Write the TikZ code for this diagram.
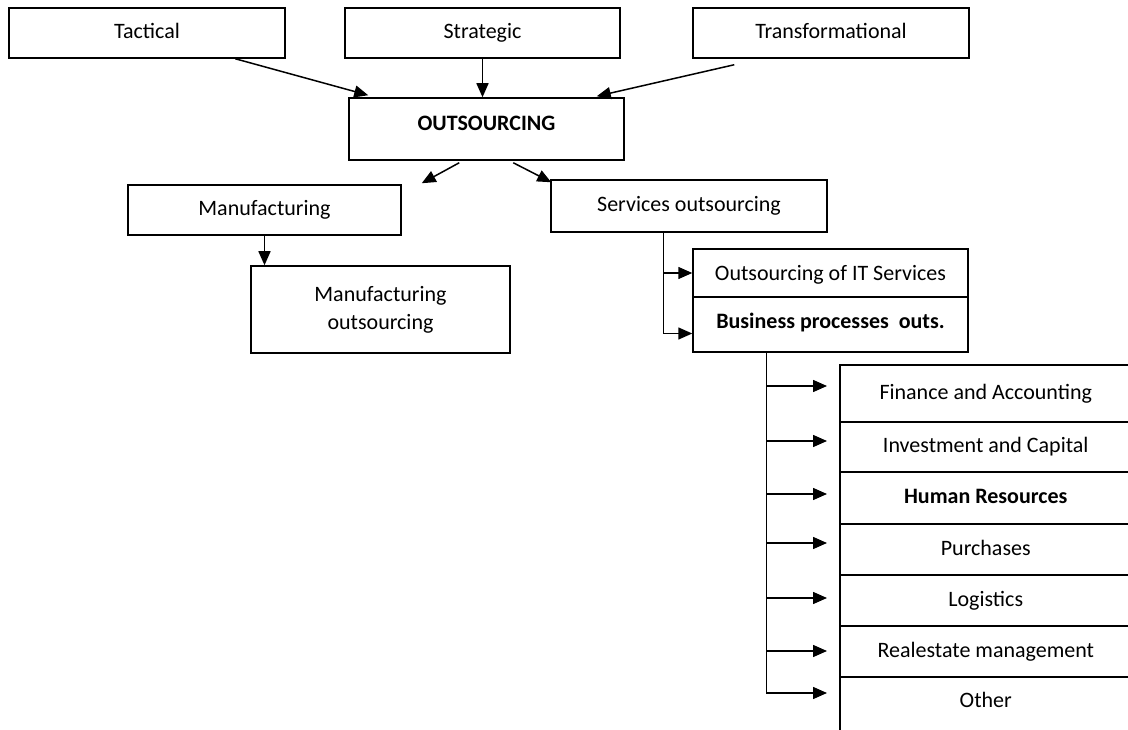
\documentclass[tikz,border=0pt]{standalone}
\usepackage{fontspec}
\setmainfont{Carlito}
\usetikzlibrary{arrows.meta,calc}
\begin{document}
\begin{tikzpicture}[x=1pt,y=-1pt,
  base/.style={draw, line width=1.5pt, inner sep=0pt, align=center, font=\fontsize{22}{28}\selectfont},
  box/.style={base, text height=15pt, text depth=3pt},
  boldbox/.style={box, font=\fontsize{22}{28}\selectfont\bfseries},
  stackbox/.style={box, minimum width=292pt, anchor=north west},
  txt/.style={inner sep=0pt, font=\fontsize{22}{28}\selectfont, text height=15pt, text depth=3pt},
  arr/.style={line width=1.5pt, -{Triangle[length=14pt,width=12pt]}},
  ln/.style={line width=1.5pt}]
\path[use as bounding box, clip] (0,0) rectangle (1128,730);
% top row
\node[box, minimum width=276pt, minimum height=50pt] (tact) at (147,33) {Tactical};
\node[box, minimum width=275pt, minimum height=50pt] (strat) at (482.5,33) {Strategic};
\node[box, minimum width=276pt, minimum height=50pt] (trans) at (831,33) {Transformational};
\node[boldbox, minimum width=275pt, minimum height=62pt, text depth=12pt] (outs) at (486.5,129) {OUTSOURCING};
% second level
\node[box, minimum width=273pt, minimum height=50pt] (manu) at (264.5,210) {Manufacturing};
\node[base, minimum width=259pt, minimum height=87pt] (mout) at (380.5,309.5) {Manufacturing\\outsourcing};
\node[box, minimum width=276pt, minimum height=52pt] (serv) at (689,206) {Services outsourcing};
\node[box, minimum width=275pt, minimum height=48pt, text depth=0pt] (it) at (830.5,273) {Outsourcing of IT Services};
\node[boldbox, minimum width=275pt, minimum height=55pt, text depth=7pt] (bpo) at (830.5,324.5) {Business processes\ \ outs.};
% stack
\node[stackbox, minimum height=57pt] (fin) at (839,364) {Finance and Accounting};
\node[stackbox, minimum height=50pt] (inv) at (839,421) {Investment and Capital};
\node[stackbox, minimum height=52pt, font=\fontsize{22}{28}\selectfont\bfseries] (hr) at (839,471) {Human Resources};
\node[stackbox, minimum height=51pt] (pur) at (839,523) {Purchases};
\node[stackbox, minimum height=51pt] (log) at (839,574) {Logistics};
\node[stackbox, minimum height=51pt] (real) at (839,625) {Realestate management};
\node[stackbox, minimum height=100pt] (otherbox) at (839,676) {};
\node[txt] (other) at ($(otherbox.north)+(0,25)$) {Other};
% arrows top
\draw[arr] ($(tact.south west)+(227,0)$) -- ($(outs.north west)+(20,-2)$);
\draw[arr] (strat.south) -- (strat.south |- outs.north);
\draw[arr] ($(trans.south west)+(42,6)$) -- ($(outs.north east)+(-28,-1)$);
\draw[arr] ($(outs.south west)+(111,2)$) -- ($(manu.north east)+(20,-1)$);
\draw[arr] ($(outs.south west)+(165,2)$) -- ($(serv.north west)+(1,3)$);
\draw[arr] (manu.south) -- (manu.south |- mout.north);
% services branches
\coordinate (sv) at ($(serv.south west)+(113,0)$);
\coordinate (sb) at ($(bpo.west)+(0,9)$);
\draw[ln] (sv) -- (sv |- sb);
\draw[arr] (sv |- it.west) -- (it.west);
\draw[arr] (sv |- sb) -- (sb);
% bpo branches
\coordinate (bt) at ($(bpo.south west)+(74,0)$);
\coordinate (b1) at (bt |- 0,386);
\coordinate (b2) at (bt |- 0,441);
\coordinate (b3) at (bt |- 0,494);
\coordinate (b4) at (bt |- 0,543);
\coordinate (b5) at (bt |- 0,598);
\coordinate (b6) at (bt |- 0,651);
\coordinate (b7) at (bt |- 0,693);
\draw[ln] (bt) -- (b7);
\draw[arr, shorten >=12pt] (b1) -- (b1 -| fin.west);
\draw[arr, shorten >=12pt] (b2) -- (b2 -| inv.west);
\draw[arr, shorten >=12pt] (b3) -- (b3 -| hr.west);
\draw[arr, shorten >=12pt] (b4) -- (b4 -| pur.west);
\draw[arr, shorten >=12pt] (b5) -- (b5 -| log.west);
\draw[arr, shorten >=12pt] (b6) -- (b6 -| real.west);
\draw[arr, shorten >=12pt] (b7) -- (b7 -| otherbox.west);
\end{tikzpicture}
\end{document}
